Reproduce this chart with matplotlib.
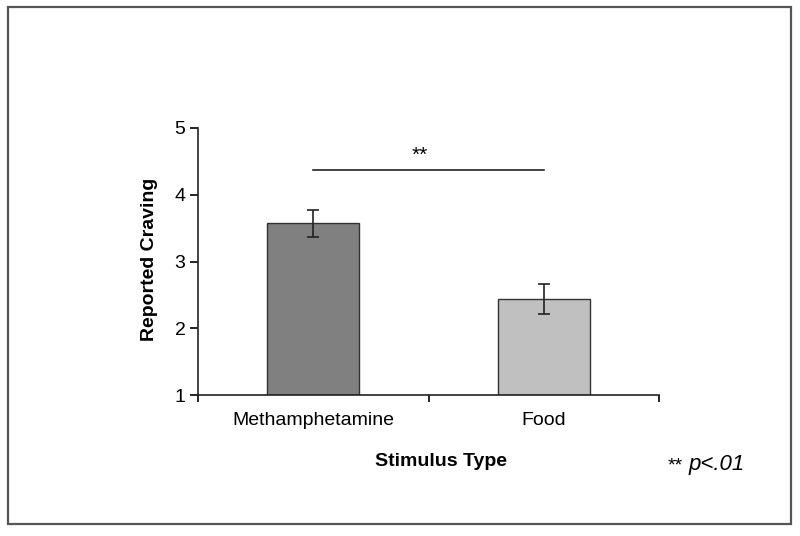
import matplotlib
matplotlib.use("Agg")
import matplotlib.pyplot as plt
from matplotlib.patches import Rectangle

plt.rcParams["font.family"] = ["Liberation Sans", "DejaVu Sans"]

categories = ["Methamphetamine", "Food"]
means = [3.57, 2.44]
errors = [0.20, 0.22]
bar_colors = ["#808080", "#c0c0c0"]
y_ticks = [1, 2, 3, 4, 5]
sig_height = 4.37

fig = plt.figure(figsize=(8, 5.36), dpi=100)
ax = fig.add_axes([198 / 800, 1 - 395 / 536, (659 - 198) / 800, (395 - 128) / 536])

x = list(range(len(categories)))
ax.bar(x, [m - 1 for m in means], bottom=1, width=0.40, color=bar_colors,
       edgecolor="#333333", linewidth=1.0, zorder=2)
ax.errorbar(x, means, yerr=errors, fmt="none", ecolor="#222222",
            elinewidth=1.2, capsize=4, capthick=1.2, zorder=3)

# significance bar
ax.plot([x[0], x[1]], [sig_height, sig_height], color="#222222", lw=1.2)
ax.text((x[0] + x[1]) / 2 - 0.04, sig_height + 0.22, "**", ha="center",
        va="center", fontsize=15)

ax.set_xlim(-0.5, 1.5)
ax.set_ylim(1, 5)
ax.set_yticks(y_ticks)
ax.set_yticklabels([str(t) for t in y_ticks], fontsize=14)
ax.set_xticks([-0.5, 0.5, 1.5])
ax.set_xticklabels([])
ax.tick_params(axis="y", direction="out", length=6, width=1.2, pad=3)
ax.tick_params(axis="x", direction="out", length=5, width=1.2)
for i, c in enumerate(categories):
    ax.text(x[i], 0.62, c, ha="center", va="center", fontsize=14,
            transform=ax.transData, clip_on=False)

for side in ("top", "right"):
    ax.spines[side].set_visible(False)
for side in ("left", "bottom"):
    ax.spines[side].set_linewidth(1.2)
    ax.spines[side].set_color("#222222")

fig.text(441 / 800, 1 - 461 / 536, "Stimulus Type", ha="center", va="center",
         fontsize=14, fontweight="bold")
fig.text(150 / 800, 1 - 259 / 536, "Reported Craving", ha="center",
         va="center", rotation=90, fontsize=14, fontweight="bold")
fig.text(668 / 800, 1 - 470 / 536, "**", ha="left", va="baseline", fontsize=14)
fig.text(689 / 800, 1 - 470 / 536, "p<.01", ha="left", va="baseline",
         fontsize=16, style="italic")

frame = Rectangle((8 / 800, 1 - 524 / 536), (791 - 8) / 800, (524 - 7) / 536,
                  transform=fig.transFigure, fill=False, edgecolor="#555555",
                  linewidth=1.6)
fig.patches.append(frame)

fig.savefig("out.png", dpi=100)
